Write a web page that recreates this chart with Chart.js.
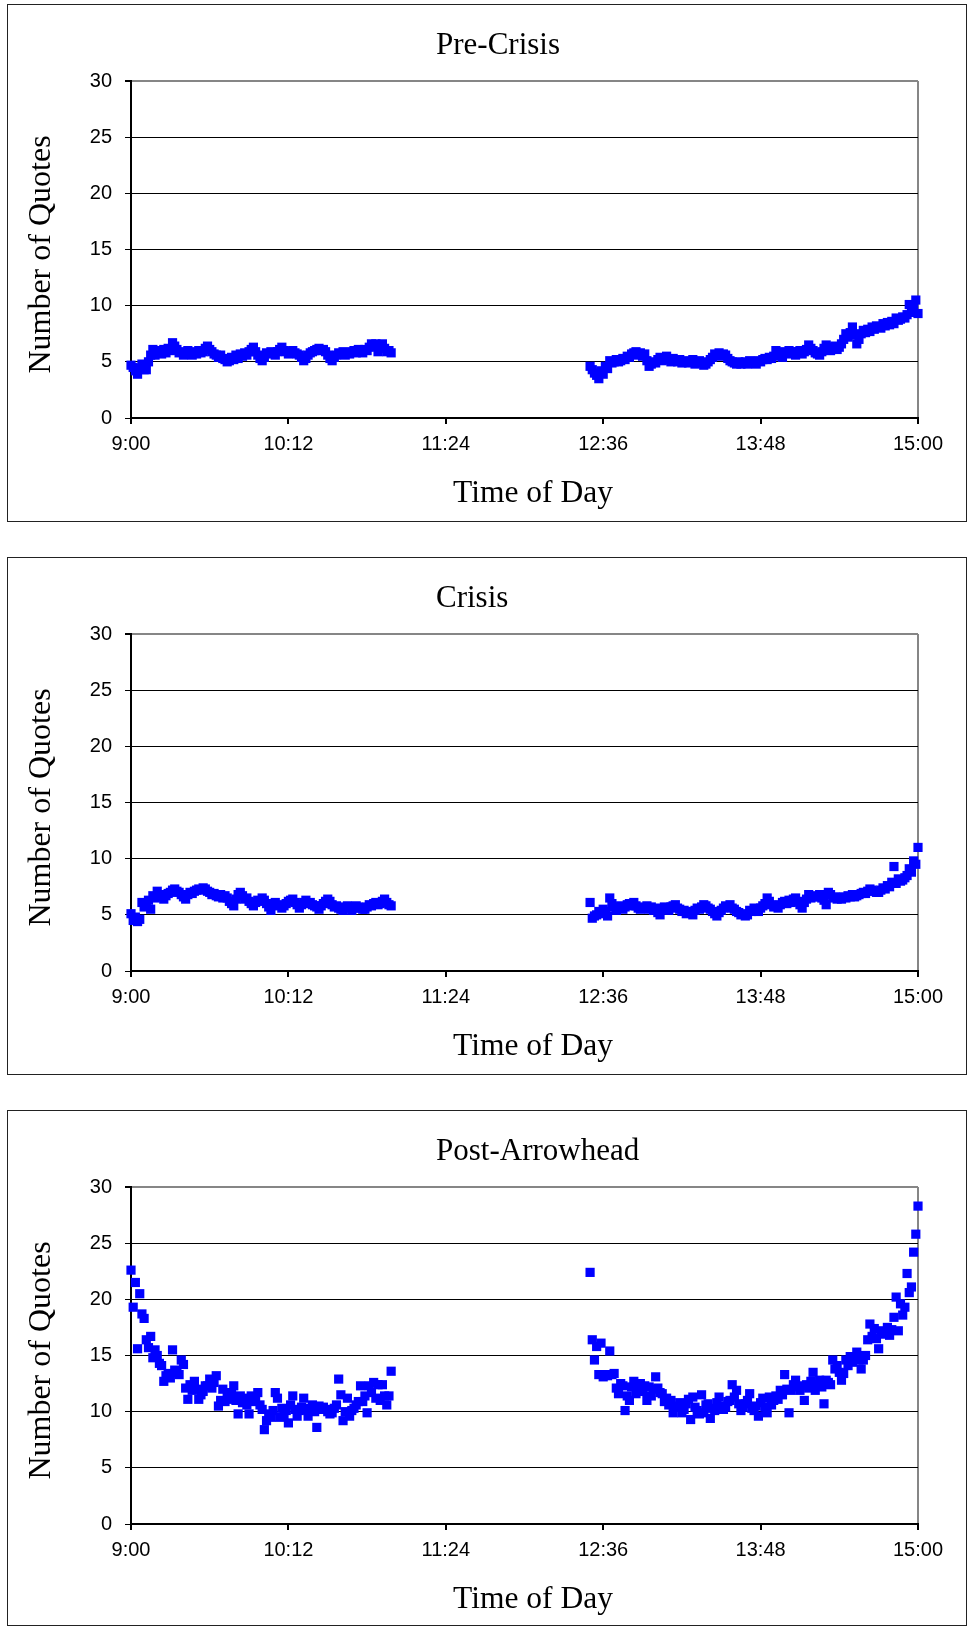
<!DOCTYPE html>
<html>
<head>
<meta charset="utf-8">
<script src="https://cdn.jsdelivr.net/npm/chart.js@4.4.0/dist/chart.umd.min.js"></script>
<style>
  body { margin: 0; background: #fff; width: 969px; height: 1627px; position: relative; overflow: hidden; }
  .panel { position: absolute; left: 7px; width: 960px; border: 1px solid #222; box-sizing: border-box; background: #fff; }
  .panel canvas { position: absolute; left: 0; top: 0; }
</style>
</head>
<body>
<div class="panel" style="top:4px;height:518px"><canvas id="chartPre" width="958" height="516"></canvas></div>
<div class="panel" style="top:557px;height:518px"><canvas id="chartCrisis" width="958" height="516"></canvas></div>
<div class="panel" style="top:1110px;height:516px"><canvas id="chartPost" width="958" height="514"></canvas></div>
<script>
// minutes after 9:00 of the first quote count in each trading session
const morningStart = 0;     // 9:00
const afternoonStart = 210; // 12:30

const xTickLabels = ["9:00", "10:12", "11:24", "12:36", "13:48", "15:00"];
const yTicks = [0, 5, 10, 15, 20, 25, 30];

// one value per minute
const preCrisisAM = [4.7,4.5,4.2,3.9,4.4, 4.8,4.3,4.3,5.0,5.6, 6.1,5.6,5.9,6.0,5.7, 6.1,5.8,6.2,6.0,6.7,
  6.4,6.1,5.8,5.9,5.6, 5.7,6.0,5.8,5.6,5.9, 5.7,6.0,5.8,5.9,6.2, 6.4,6.1,5.9,5.7,5.6,
  5.4,5.6,5.3,5.2,5.0, 5.1,5.4,5.2,5.6,5.3, 5.7,5.5,5.8,5.6,5.9, 6.1,6.3,5.9,5.6,5.3,
  5.1,5.4,5.8,5.7,5.9, 5.8,5.6,5.9,6.1,6.3, 6.0,5.9,5.7,5.8,6.0, 5.8,5.7,5.6,5.4,5.1,
  5.3,5.6,5.8,5.9,6.0, 6.1,6.2,6.0,6.1,5.9, 5.6,5.3,5.1,5.4,5.6, 5.8,5.7,5.9,5.6,5.8,
  5.7,5.9,6.0,5.8,6.1, 5.9,5.8,6.1,6.0,6.3, 6.6,6.4,6.6,5.9,6.5, 6.6,6.2,5.9,6.0,5.8];
const preCrisisPM = [4.6,4.3,4.0,3.8,3.5, 4.2,3.9,4.6,4.4,5.1, 4.9,5.0,5.2,5.0,5.1, 5.3,5.2,5.5,5.4,5.7,
  5.8,5.9,5.6,5.8,5.5, 5.7,5.1,4.6,4.8,5.0, 4.9,5.2,5.4,5.1,5.3, 5.5,5.2,5.0,5.3,5.1,
  5.0,5.2,4.9,5.0,5.1, 4.9,5.0,5.2,4.8,5.0, 5.1,4.9,4.7,4.8,5.0, 5.2,5.4,5.7,5.6,5.8,
  5.5,5.7,5.6,5.3,5.1, 5.0,4.9,4.8,5.0,4.8, 4.9,5.0,4.8,5.1,4.9, 5.0,4.8,5.1,5.0,5.2,
  5.3,5.2,5.4,5.3,5.5, 6.0,5.6,5.8,5.4,5.9, 5.7,6.0,5.8,5.9,5.6, 5.9,6.0,5.7,5.9,6.1,
  6.5,6.2,6.0,5.8,5.7, 5.6,5.9,6.2,6.5,6.3, 6.0,6.2,6.4,6.1,6.3, 6.6,7.0,7.5,7.2,7.6,
  8.1,7.4,6.6,7.0,7.5, 7.8,7.6,7.9,7.7,8.1, 7.9,8.2,8.1,8.0,8.4, 8.2,8.5,8.3,8.6,8.4,
  8.9,8.7,8.8,9.0,8.9, 9.2,10.1,9.4,9.9,10.5, 9.3];

const crisisAM = [5.1,4.5,4.8,4.4,4.6, 6.1,5.7,5.9,6.3,5.5, 6.7,6.5,7.1,6.8,6.6, 6.4,6.7,6.9,7.0,7.2,
  7.3,7.1,7.0,6.8,6.6, 6.4,6.8,7.0,6.9,7.1, 7.2,7.3,7.2,7.4,7.3, 7.1,7.0,6.8,6.9,6.7,
  6.6,6.8,6.5,6.7,6.5, 6.2,6.0,5.8,6.4,6.8, 7.0,6.7,6.4,6.5,6.2, 6.0,5.8,6.1,6.3,6.2,
  6.5,6.3,6.0,5.7,5.4, 5.9,6.1,5.8,5.9,5.6, 5.8,6.0,6.2,6.3,6.4, 6.1,5.9,5.6,5.9,6.1,
  6.3,6.0,6.1,5.9,5.8, 5.7,5.5,5.8,6.0,6.2, 6.4,6.2,5.9,5.7,5.8, 5.6,5.5,5.4,5.7,5.8,
  5.6,5.4,5.6,5.8,5.7, 5.6,5.5,5.5,5.7,5.9, 5.8,6.0,6.1,5.9,6.0, 6.2,6.4,6.1,5.9,5.8];
const crisisPM = [6.1,4.7,4.9,5.0,5.3, 5.1,5.5,5.3,4.9,6.5, 6.0,5.7,5.4,5.6,5.8, 5.5,5.7,5.9,6.0,5.8,
  6.1,5.8,5.6,5.5,5.7, 5.6,5.8,5.5,5.7,5.4, 5.6,5.2,5.0,5.5,5.7, 5.6,5.4,5.7,5.8,5.9,
  5.6,5.5,5.3,5.4,5.1, 5.3,5.2,5.0,5.4,5.6, 5.5,5.7,5.9,5.8,5.6, 5.5,5.3,5.1,4.9,5.2,
  5.4,5.6,5.8,5.7,5.9, 5.6,5.5,5.3,5.2,5.0, 5.1,4.9,5.0,5.4,5.3, 5.6,5.4,5.3,5.6,5.8,
  6.0,6.5,6.2,5.9,5.7, 5.8,5.6,5.9,6.1,6.2, 6.0,6.3,6.1,6.4,6.5, 6.2,5.9,5.6,6.1,6.4,
  6.8,6.5,6.6,6.7,6.6, 6.8,6.5,6.3,5.9,7.0, 6.8,6.5,6.6,6.4,6.5, 6.4,6.6,6.5,6.7,6.6,
  6.8,6.6,6.7,6.8,6.9, 7.0,6.9,7.1,7.3,7.2, 7.1,7.0,7.0,7.2,7.4, 7.3,7.6,7.5,7.9,9.3,
  7.8,8.2,8.0,8.1,8.3, 8.5,9.1,8.8,9.8,9.5, 11.0];

const postAM = [22.6,19.3,21.5,15.6,20.5,18.7,18.3,16.4,15.7,16.7,
  14.8,15.5,15.0,14.3,14.1,12.7,13.2,13.4,13.0,15.5,
  13.7,13.5,13.3,14.6,14.2,12.1,11.1,12.4,11.9,12.7,
  12.0,11.1,11.5,11.8,12.3,12.3,12.9,12.1,12.6,13.2,
  10.5,11.0,12.0,10.9,11.5,11.1,11.7,12.3,11.0,9.8,
  11.4,10.8,11.2,10.6,9.8,11.4,10.9,11.3,11.7,10.6,
  10.2,8.4,9.2,9.8,9.5,10.1,11.7,11.2,9.5,10.3,
  9.6,10.1,9.0,10.6,11.4,10.2,9.6,10.1,10.4,11.2,
  10.2,9.6,10.3,10.6,10.0,8.6,10.5,10.2,10.4,10.2,
  10.0,9.8,9.9,10.3,10.6,12.9,11.5,9.2,10.0,11.2,
  9.6,10.1,10.3,10.6,10.9,12.3,10.9,11.4,9.9,12.3,
  11.7,12.6,11.2,12.4,11.0,12.4,11.4,10.6,11.4,13.6];
const postPM = [22.4,16.4,14.6,15.8,13.3,16.1,13.1,13.3,13.2,15.4,
  13.3,13.4,12.1,11.6,12.5,12.3,10.1,11.4,11.0,12.2,
  12.7,11.6,12.1,12.5,11.8,12.3,11.0,12.2,11.4,12.0,
  13.1,12.1,11.7,11.6,10.9,11.2,10.6,11.0,9.9,10.5,
  10.4,10.8,9.9,10.2,10.7,11.1,9.3,11.3,10.4,10.1,
  9.8,11.5,9.9,10.6,10.7,9.4,10.3,10.1,10.8,11.3,
  10.5,10.2,10.4,10.9,11.0,12.4,11.3,11.9,10.7,10.1,
  10.4,10.7,11.0,11.6,10.3,10.1,10.5,9.6,10.8,11.2,
  10.4,9.9,11.3,10.6,11.0,11.4,11.1,11.9,11.5,13.3,
  12.0,9.9,11.9,12.4,12.8,12.2,11.9,12.3,11.0,12.4,
  12.1,12.7,13.5,11.9,12.4,12.8,12.2,10.7,12.8,12.6,
  12.4,14.6,13.8,14.1,13.5,12.8,13.4,14.6,14.1,14.9,
  14.4,14.8,15.3,14.6,13.8,14.6,15.0,16.4,17.8,16.7,
  17.4,16.5,15.6,17.2,16.9,17.0,17.5,16.8,17.3,18.4,
  20.2,17.2,19.6,18.6,19.3,22.3,20.6,21.1,24.2,25.8,
  28.3];

const toPoints = (start, values) => values.map((v, i) => ({ x: start + i, y: v }));

const serif = "'Liberation Serif', 'Times New Roman', serif";
const sans = "'Liberation Sans', Arial, sans-serif";
const plotBorder = "#868686";
const plotTop = 76;
const plotBottom = 413;

// titles are placed like the Excel original (not centred on the canvas)
const panelText = {
  id: "panelText",
  afterDraw(chart, args, opts) {
    const ctx = chart.ctx;
    ctx.save();
    ctx.fillStyle = "#000";
    ctx.textBaseline = "middle";

    ctx.font = `31px ${serif}`;
    ctx.textAlign = "left";
    ctx.fillText(opts.title, 428, 41);

    ctx.font = `31.5px ${serif}`;
    ctx.textAlign = "center";
    ctx.fillText("Time of Day", 525, 489);

    ctx.translate(34, 249.5);
    ctx.rotate(-Math.PI / 2);
    ctx.font = `32px ${serif}`;
    ctx.fillText("Number of Quotes", 0, 0);
    ctx.restore();
  },
};

function renderQuotesChart(canvasId, title, amValues, pmValues) {
  const canvas = document.getElementById(canvasId);
  const points = toPoints(morningStart, amValues).concat(toPoints(afternoonStart, pmValues));

  new Chart(canvas, {
    type: "scatter",
    data: {
      datasets: [{
        data: points,
        pointStyle: "rect",
        pointRadius: 6.5,
        pointHoverRadius: 6.5,
        pointBorderWidth: 0,
        backgroundColor: "#0000ff",
        borderColor: "#0000ff",
        clip: false,
      }],
    },
    plugins: [panelText],
    options: {
      responsive: false,
      animation: false,
      events: [],
      layout: { padding: { left: 0, top: plotTop, right: 48, bottom: 0 } },
      plugins: {
        legend: { display: false },
        tooltip: { enabled: false },
        title: { display: false },
        panelText: { title: title },
      },
      scales: {
        x: {
          type: "linear",
          min: 0,
          max: 360,
          afterFit: (scale) => { scale.height = canvas.height - plotBottom; },
          afterBuildTicks: (scale) => { scale.ticks = xTickLabels.map((_, i) => ({ value: i * 72 })); },
          ticks: {
            autoSkip: false,
            maxRotation: 0,
            color: "#000",
            padding: 8,
            font: { family: sans, size: 20 },
            callback: (value, index) => xTickLabels[index],
          },
          grid: {
            drawOnChartArea: true,
            color: (ctx) => (ctx.tick && ctx.tick.value === 360 ? plotBorder : "rgba(0,0,0,0)"),
            lineWidth: 2,
            tickColor: "#000",
            tickLength: 6,
          },
          border: { display: true, color: "#000", width: 2 },
        },
        y: {
          min: 0,
          max: 30,
          afterFit: (scale) => { scale.width = 123; },
          afterBuildTicks: (scale) => { scale.ticks = yTicks.map((v) => ({ value: v })); },
          ticks: {
            color: "#000",
            padding: 13,
            font: { family: sans, size: 20 },
          },
          grid: {
            color: (ctx) => (ctx.tick && ctx.tick.value === 30 ? plotBorder : "#000"),
            lineWidth: (ctx) => (ctx.tick && ctx.tick.value === 30 ? 2 : 1),
            tickColor: "#000",
            tickLength: 6,
          },
          border: { display: true, color: "#000", width: 2 },
        },
      },
    },
  });
}

renderQuotesChart("chartPre", "Pre-Crisis", preCrisisAM, preCrisisPM);
renderQuotesChart("chartCrisis", "Crisis", crisisAM, crisisPM);
renderQuotesChart("chartPost", "Post-Arrowhead", postAM, postPM);
</script>
</body>
</html>
